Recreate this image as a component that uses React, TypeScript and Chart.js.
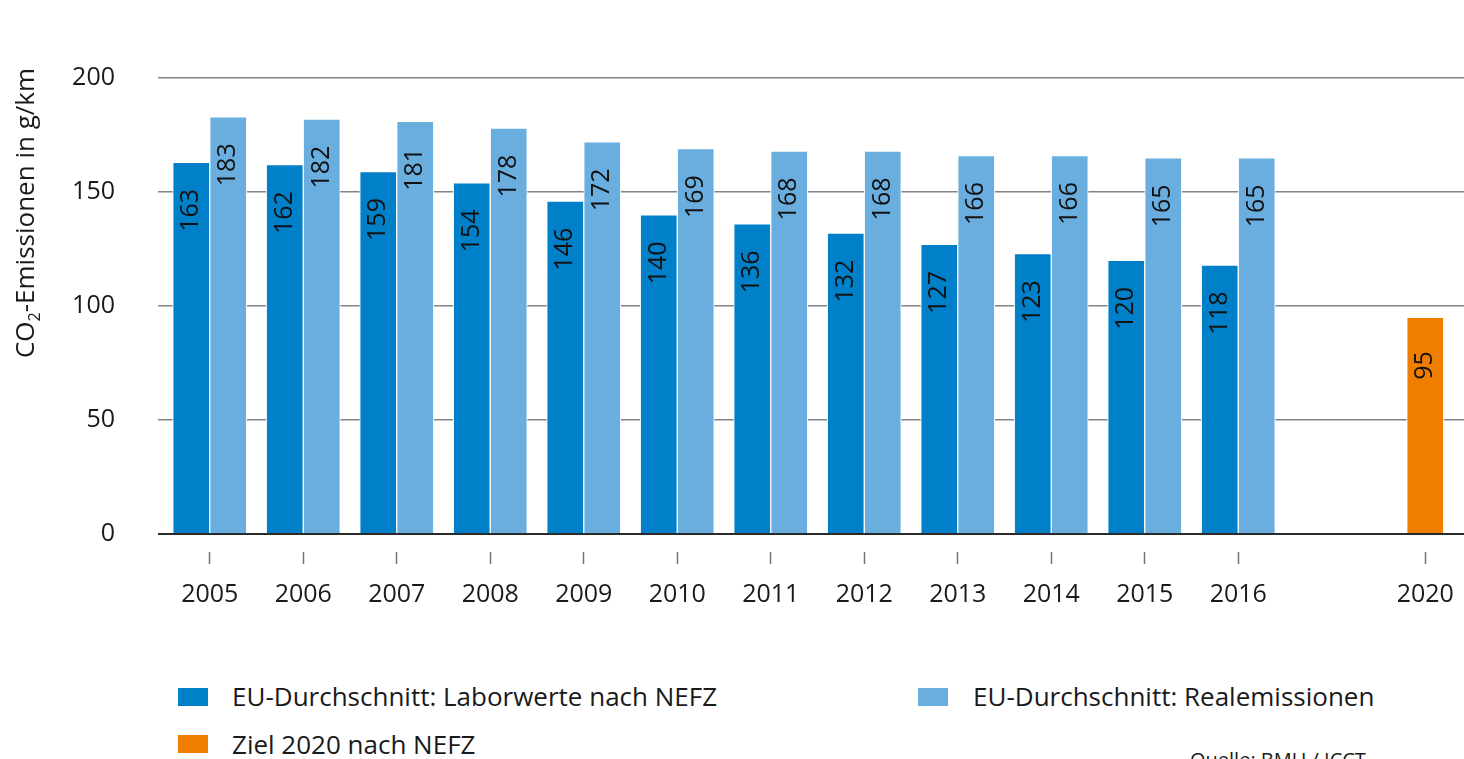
import React, { useEffect, useRef } from 'react';
import { Chart, registerables } from 'chart.js';

Chart.register(...registerables);

const years = ['2005', '2006', '2007', '2008', '2009', '2010', '2011', '2012', '2013', '2014', '2015', '2016', '', '2020'];
const laborwerte = [163, 162, 159, 154, 146, 140, 136, 132, 127, 123, 120, 118, null, null];
const realemissionen = [183, 182, 181, 178, 172, 169, 168, 168, 166, 166, 165, 165, null, null];
const ziel2020 = [null, null, null, null, null, null, null, null, null, null, null, null, null, 95];
const yTickValues = [0, 50, 100, 150, 200];

const seriesNames = ['EU-Durchschnitt: Laborwerte nach NEFZ', 'EU-Durchschnitt: Realemissionen', 'Ziel 2020 nach NEFZ'];
const colors = ['#0080c9', '#6aaee0', '#ef7d00'];
const yTitleMain = 'CO';
const yTitleSub = '2';
const yTitleRest = '-Emissionen in g/km';
const sourceText = 'Quelle: BMU / ICCT';

const FONT = '"Open Sans", "Noto Sans", sans-serif';
const TEXT = '#1a1a1a';

const barLabelPlugin = {
  id: 'barLabels',
  afterDatasetsDraw(chart: any) {
    const ctx = chart.ctx;
    ctx.save();
    ctx.font = `25px ${FONT}`;
    ctx.fillStyle = '#111';
    ctx.textAlign = 'center';
    ctx.textBaseline = 'middle';
    chart.data.datasets.forEach((ds: any, di: number) => {
      const meta = chart.getDatasetMeta(di);
      meta.data.forEach((el: any, i: number) => {
        const v = ds.data[i];
        if (v === null || v === undefined) return;
        ctx.save();
        ctx.translate(el.x, el.y + 48);
        ctx.rotate(-Math.PI / 2);
        ctx.fillText(String(v), 0, 0);
        ctx.restore();
      });
    });
    ctx.restore();
  },
};

const yTitlePlugin = {
  id: 'yTitle',
  afterDraw(chart: any) {
    const ctx = chart.ctx;
    ctx.save();
    ctx.fillStyle = TEXT;
    ctx.textBaseline = 'middle';
    ctx.textAlign = 'left';
    const big = `26px ${FONT}`;
    const small = `16px ${FONT}`;
    ctx.font = big;
    const w1 = ctx.measureText(yTitleMain).width;
    const w3 = ctx.measureText(yTitleRest).width;
    ctx.font = small;
    const w2 = ctx.measureText(yTitleSub).width;
    const total = w1 + w2 + w3;
    ctx.translate(27, 213);
    ctx.rotate(-Math.PI / 2);
    let x = -total / 2;
    ctx.font = big;
    ctx.fillText(yTitleMain, x, 0);
    x += w1;
    ctx.font = small;
    ctx.fillText(yTitleSub, x, 8);
    x += w2;
    ctx.font = big;
    ctx.fillText(yTitleRest, x, 0);
    ctx.restore();
  },
};

export default function App() {
  const canvasRef = useRef<HTMLCanvasElement | null>(null);

  useEffect(() => {
    const canvas = canvasRef.current;
    if (!canvas) return;
    const common = {
      barThickness: 37,
      borderWidth: 1,
      borderColor: '#ffffff',
      borderSkipped: 'bottom',
      skipNull: true,
    };
    const chart = new Chart(canvas, {
      type: 'bar',
      data: {
        labels: years,
        datasets: [
          { label: seriesNames[0], data: laborwerte, backgroundColor: colors[0], ...common },
          { label: seriesNames[1], data: realemissionen, backgroundColor: colors[1], ...common },
          { label: seriesNames[2], data: ziel2020, backgroundColor: colors[2], ...common },
        ] as any,
      },
      options: {
        animation: false,
        responsive: false,
        devicePixelRatio: 1,
        layout: { padding: { top: 78, left: 0, right: 0, bottom: 0 } },
        plugins: {
          legend: { display: false },
          tooltip: { enabled: false },
          title: { display: false },
        },
        scales: {
          x: {
            type: 'category',
            offset: true,
            border: { display: false },
            grid: {
              offset: false,
              drawOnChartArea: false,
              drawTicks: true,
              tickLength: 43,
              tickWidth: 1.5,
              tickBorderDash: [0, 18, 12, 200],
              tickColor: (ctx: any) => (years[ctx.index] === '' ? 'rgba(0,0,0,0)' : '#6f777c'),
            },
            ticks: {
              autoSkip: false,
              maxRotation: 0,
              padding: 3,
              color: TEXT,
              font: { family: FONT, size: 25 },
            },
            afterFit: (scale: any) => {
              scale.height = 90;
            },
          },
          y: {
            min: 0,
            max: 200,
            border: { display: false },
            afterBuildTicks: (scale: any) => {
              scale.ticks = yTickValues.map((v) => ({ value: v }));
            },
            grid: {
              drawTicks: true,
              tickLength: 5,
              color: (ctx: any) => (ctx.tick && ctx.tick.value === 0 ? '#2a2a2a' : '#7d858b'),
              tickColor: (ctx: any) => (ctx.tick && ctx.tick.value === 0 ? '#2a2a2a' : '#7d858b'),
              lineWidth: (ctx: any) => (ctx.tick && ctx.tick.value === 0 ? 2 : 1.5),
            },
            ticks: {
              padding: 43,
              color: TEXT,
              font: { family: FONT, size: 25 },
            },
            afterFit: (scale: any) => {
              scale.width = 163;
            },
          },
        },
      } as any,
      plugins: [barLabelPlugin, yTitlePlugin],
    });
    return () => chart.destroy();
  }, []);

  const legendText: React.CSSProperties = {
    position: 'absolute',
    fontFamily: FONT,
    fontSize: 26,
    lineHeight: '26px',
    color: TEXT,
    whiteSpace: 'nowrap',
  };
  const sq = (left: number, top: number, color: string): React.CSSProperties => ({
    position: 'absolute',
    left,
    top,
    width: 30,
    height: 18,
    background: color,
  });

  return (
    <div
      style={{
        position: 'fixed',
        left: 0,
        top: 0,
        width: 1464,
        height: 759,
        overflow: 'hidden',
        background: '#ffffff',
      }}
    >
      <canvas
        ref={canvasRef}
        width={1472}
        height={624}
        style={{ position: 'absolute', left: 0, top: 0, width: 1472, height: 624 }}
      />
      <div style={sq(178, 688, colors[0])} />
      <div style={{ ...legendText, left: 232, top: 683 }}>{seriesNames[0]}</div>
      <div style={sq(918, 688, colors[1])} />
      <div style={{ ...legendText, left: 973, top: 683 }}>{seriesNames[1]}</div>
      <div style={sq(178, 735, colors[2])} />
      <div style={{ ...legendText, left: 232, top: 731 }}>{seriesNames[2]}</div>
      <div style={{ ...legendText, left: 1190, top: 748, fontSize: 20, lineHeight: '24px' }}>{sourceText}</div>
    </div>
  );
}
